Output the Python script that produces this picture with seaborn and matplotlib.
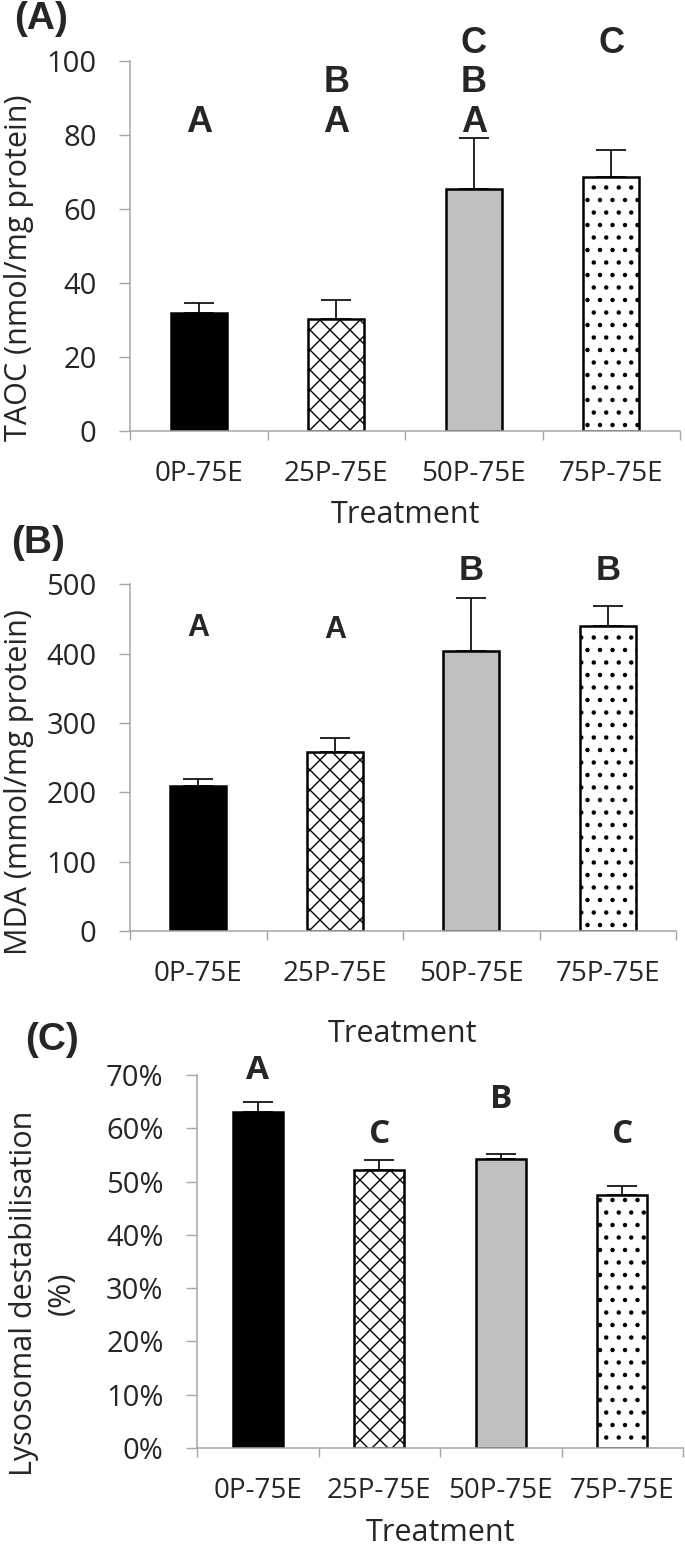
import numpy as np
import pandas as pd
import matplotlib
matplotlib.use("Agg")
import matplotlib.pyplot as plt
import matplotlib.hatch as mhatch
import seaborn as sns
from matplotlib.ticker import FixedLocator, PercentFormatter

# ---------------- data ----------------
treatments = ["0P-75E", "25P-75E", "50P-75E", "75P-75E"]

taoc_mean = [32.0, 30.2, 65.3, 68.6]
taoc_err = [2.5, 5.2, 13.7, 7.2]
# letters stacked bottom->top, one character per level (space = empty level)
taoc_letters = ["A", "AB", "ABC", "  C"]

mda_mean = [209, 258, 404, 439.5]
mda_err = [10, 21, 76, 28.5]
mda_letters = ["A", "A", "B", "B"]
mda_letter_y = [426, 423, 506, 506]

lyso_mean = [63.1, 52.1, 54.3, 47.4]
lyso_err = [1.9, 2.0, 0.8, 1.8]
lyso_letters = ["A", "C", "B", "C"]
lyso_letter_y = [69.2, 57.2, 63.8, 57.2]

bar_colors = ["black", "white", "#BFBFBF", "white"]
bar_hatches = [None, "x", None, "."]


# hatch densities closer to the reference
class _Dots(mhatch.SmallFilledCircles):
    size = 0.12

    def __init__(self, hatch, density):
        super().__init__(hatch, 8)


class _NE(mhatch.NorthEastHatch):
    def __init__(self, hatch, density):
        super().__init__(hatch, 10)


class _SE(mhatch.SouthEastHatch):
    def __init__(self, hatch, density):
        super().__init__(hatch, 10)


_swap = {mhatch.SmallFilledCircles: _Dots,
         mhatch.NorthEastHatch: _NE,
         mhatch.SouthEastHatch: _SE}
mhatch._hatch_types = [_swap.get(t, t) for t in mhatch._hatch_types]

# ---------------- style ----------------
sns.set_style("white")
plt.rcParams["font.family"] = ["Open Sans", "DejaVu Sans"]
plt.rcParams["hatch.linewidth"] = 1.0

W, H = 685, 1545
fig = plt.figure(figsize=(W / 100, H / 100), dpi=100)

AXIS_GRAY = "#A6A6A6"


def fx(px):
    return px / W


def fy(py):
    return 1 - py / H


def make_axes(x0, x1, ytop, ybot):
    return fig.add_axes([fx(x0), fy(ybot), fx(x1) - fx(x0), fy(ytop) - fy(ybot)])


def draw_panel(ax, means, errs, ylim, yticks):
    df = pd.DataFrame({"Treatment": treatments, "value": means})
    sns.barplot(data=df, x="Treatment", y="value", hue="Treatment",
                palette=dict(zip(treatments, bar_colors)), legend=False,
                width=0.41, edgecolor="black", linewidth=1.8,
                errorbar=None, ax=ax, zorder=2)
    for patch, h in zip(ax.patches, bar_hatches):
        if h:
            patch.set_hatch(h)
    ax.errorbar(np.arange(len(treatments)), means,
                yerr=[np.zeros(len(errs)), errs], fmt="none",
                ecolor="black", elinewidth=1.2, capsize=11, capthick=1.2,
                zorder=1)
    ax.set_xlim(-0.5, len(treatments) - 0.5)
    ax.set_ylim(*ylim)
    ax.set_yticks(yticks)
    ax.xaxis.set_minor_locator(FixedLocator(np.arange(-0.5, len(treatments), 1.0)))
    ax.tick_params(axis="x", which="major", length=0, pad=21, labelsize=20)
    ax.tick_params(axis="x", which="minor", length=6.5, width=1.0,
                   color=AXIS_GRAY, direction="out", bottom=True)
    ax.tick_params(axis="y", length=8, width=1.0, color=AXIS_GRAY,
                   direction="out", pad=16, labelsize=21, left=True)
    for s in ["top", "right"]:
        ax.spines[s].set_visible(False)
    for s in ["left", "bottom"]:
        ax.spines[s].set_color(AXIS_GRAY)
        ax.spines[s].set_linewidth(1.1)
    ax.set_xlabel("")
    ax.set_ylabel("")


# ---------------- panel A ----------------
axA = make_axes(130, 680, 60.7, 431)
draw_panel(axA, taoc_mean, taoc_err, (0, 100), np.arange(0, 101, 20))
for i, stack in enumerate(taoc_letters):
    for lvl, ch in enumerate(stack):
        if ch != " ":
            axA.text(i, 80.8 + lvl * 10.7, ch, ha="center", va="baseline",
                     fontsize=26, fontweight="bold",
                     family=["Liberation Sans", "DejaVu Sans"])
fig.text(fx(19), fy(268), "TAOC (nmol/mg protein)", rotation=90,
         ha="center", va="center", fontsize=22)
fig.text(fx(405), fy(523), "Treatment", ha="center", va="baseline", fontsize=22)
fig.text(fx(14), fy(19), "(A)", ha="left", va="center", fontsize=28,
         fontweight="bold", family=["Liberation Sans", "DejaVu Sans"])

# ---------------- panel B ----------------
axB = make_axes(130, 676, 584.3, 931)
draw_panel(axB, mda_mean, mda_err, (0, 500), np.arange(0, 501, 100))
for i, (ch, yv) in enumerate(zip(mda_letters, mda_letter_y)):
    axB.text(i, yv, ch, ha="center", va="baseline",
             fontsize=22 if ch == "A" else 25, fontweight="bold",
             family=["Liberation Sans", "DejaVu Sans"])
fig.text(fx(19), fy(782), "MDA (mmol/mg protein)", rotation=90,
         ha="center", va="center", fontsize=22)
fig.text(fx(403), fy(1042), "Treatment", ha="center", va="baseline", fontsize=22)
fig.text(fx(11), fy(543), "(B)", ha="left", va="center", fontsize=28,
         fontweight="bold", family=["Liberation Sans", "DejaVu Sans"])

# ---------------- panel C ----------------
axC = make_axes(197, 683, 1075, 1448)
draw_panel(axC, lyso_mean, lyso_err, (0, 70), np.arange(0, 71, 10))
axC.yaxis.set_major_formatter(PercentFormatter(decimals=0))
for i, (ch, yv) in enumerate(zip(lyso_letters, lyso_letter_y)):
    axC.text(i, yv, ch, ha="center", va="baseline", fontsize=24,
             fontweight="bold")
fig.text(fx(43), fy(1293), "Lysosomal destabilisation\n(%)", rotation=90,
         ha="center", va="center", multialignment="center", fontsize=22,
         linespacing=1.35)
fig.text(fx(440), fy(1541), "Treatment", ha="center", va="baseline", fontsize=22)
fig.text(fx(25), fy(1040), "(C)", ha="left", va="center", fontsize=28,
         fontweight="bold", family=["Liberation Sans", "DejaVu Sans"])

fig.savefig("out.png", dpi=100)
